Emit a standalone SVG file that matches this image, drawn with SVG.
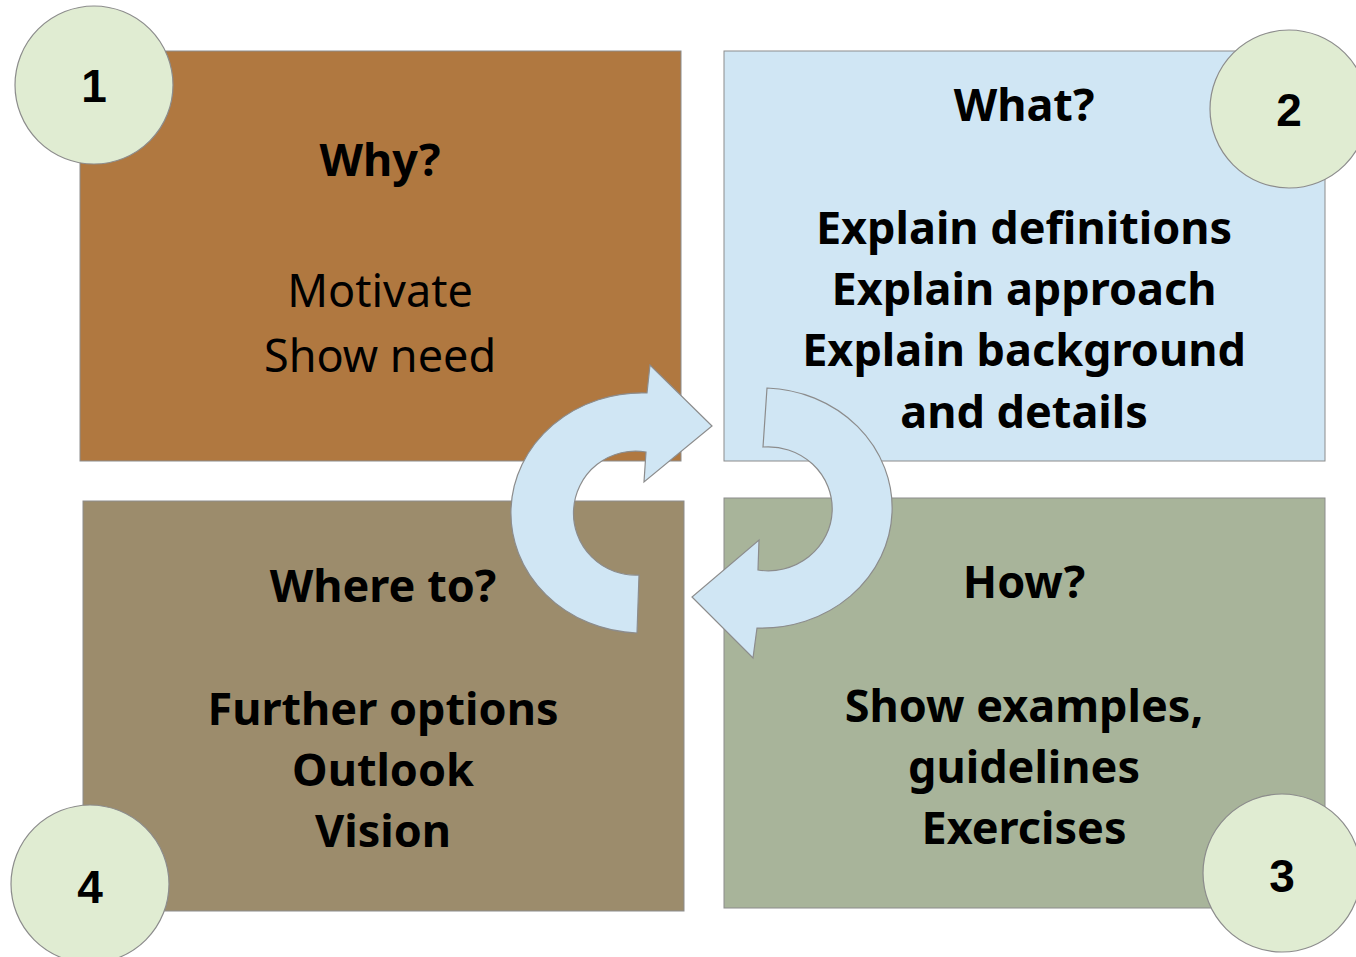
<svg xmlns="http://www.w3.org/2000/svg" width="1356" height="957" viewBox="0 0 1356 957">
<style>
.box{stroke:#8c8c8c;stroke-width:1}
.circ{fill:#e0ecd2;stroke:#8c8c8c;stroke-width:1.2}
.arrow{fill:#d0e6f4;stroke:#8c8c8c;stroke-width:1.2}
.num{font-family:"Liberation Sans",Arial,sans-serif;font-weight:bold;font-size:46px;fill:#000;text-anchor:middle}
.t{font-family:"Noto Sans","Open Sans",sans-serif;font-size:45px;fill:#000;text-anchor:middle}
.b{font-weight:bold}
</style>
<rect width="1356" height="957" fill="#fff"/>
<g id="node-why">
<rect class="box" x="80" y="51" width="601" height="410" fill="#b07840"/>
<text class="t b" x="380" y="176">Why?</text>
<text class="t" x="380" y="307">Motivate</text>
<text class="t" x="380" y="372">Show need</text>
</g>
<g id="node-what">
<rect class="box" x="724" y="51" width="601" height="410" fill="#d0e6f4"/>
<text class="t b" x="1024" y="121">What?</text>
<text class="t b" x="1024" y="244">Explain definitions</text>
<text class="t b" x="1024" y="305">Explain approach</text>
<text class="t b" x="1024" y="366">Explain background</text>
<text class="t b" x="1024" y="428">and details</text>
</g>
<g id="node-how">
<rect class="box" x="724" y="498" width="601" height="410" fill="#a8b49a"/>
<text class="t b" x="1024" y="598">How?</text>
<text class="t b" x="1024" y="722">Show examples,</text>
<text class="t b" x="1024" y="783">guidelines</text>
<text class="t b" x="1024" y="844">Exercises</text>
</g>
<g id="node-whereto">
<rect class="box" x="83" y="501" width="601" height="410" fill="#9c8c6c"/>
<text class="t b" x="383" y="602">Where to?</text>
<text class="t b" x="383" y="725">Further options</text>
<text class="t b" x="383" y="786">Outlook</text>
<text class="t b" x="383" y="847">Vision</text>
</g>
<g id="connectors">
<path class="arrow" d="M637,633 A131 120 0 1 1 647,393 L650,365 L712,426 L644,482 L646,452 A62 62 0 1 0 639,575 Z"/>
<path class="arrow" d="M767,388 A130 120 0 1 1 757,628 L753,658 L692,597 L759,540 L758,570 A64 62 0 1 0 763,447 Z"/>
</g>
<g id="badge-1">
<circle class="circ" cx="94" cy="85" r="79"/>
<text class="num" x="94" y="102">1</text>
</g>
<g id="badge-2">
<circle class="circ" cx="1289" cy="109" r="79"/>
<text class="num" x="1289" y="126">2</text>
</g>
<g id="badge-3">
<circle class="circ" cx="1282" cy="873" r="79"/>
<text class="num" x="1282" y="892">3</text>
</g>
<g id="badge-4">
<circle class="circ" cx="90" cy="884" r="79"/>
<text class="num" x="90" y="903">4</text>
</g>
</svg>
